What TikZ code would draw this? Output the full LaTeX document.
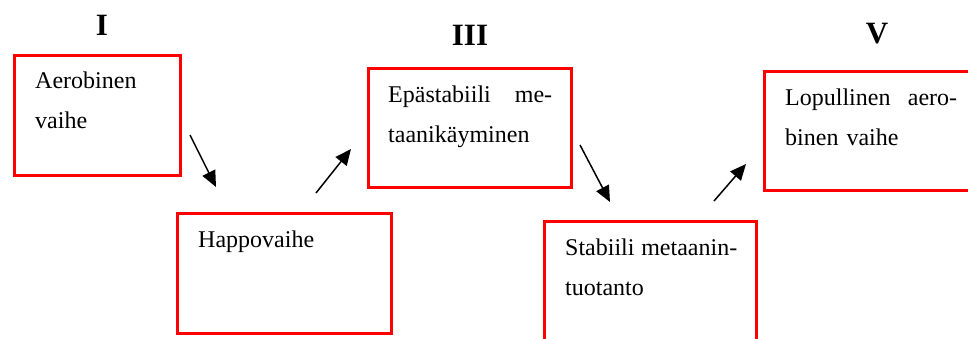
\documentclass[tikz,border=0pt]{standalone}
\usepackage{fontspec}
\setmainfont{Liberation Serif}
\usetikzlibrary{arrows.meta}
\begin{document}
\begin{tikzpicture}[x=1pt,y=-1pt,
  box/.style={draw=red,line width=3pt,anchor=north west,inner sep=0pt},
  txt/.style={anchor=base west,inner sep=0pt,align=left,
    font=\fontsize{24}{40}\selectfont},
  phase/.style={anchor=base,inner sep=0pt,font=\fontsize{31}{31}\selectfont\bfseries},
  arr/.style={line width=1.5pt,-{Triangle[length=16pt,width=14pt]}}]
  \useasboundingbox (0,0) rectangle (968,338);
  \clip (0,0) rectangle (968,338);
  % phase numbers
  \node[phase] (p1) at (102,35) {I};
  \node[phase] (p3) at (470,45) {III};
  \node[phase] (p5) at (877,43) {V};
  % frames
  \node[box,minimum width=166,minimum height=120] (aero) at (13,54) {};
  \node[box,minimum width=214,minimum height=120] (happo) at (176,212) {};
  \node[box,minimum width=203,minimum height=119] (epast) at (367,67) {};
  \node[box,minimum width=212,minimum height=120] (stab) at (543,220) {};
  \node[box,minimum width=214,minimum height=119] (lopu) at (763,70) {};
  % texts
  \node[txt,text width=140] (aerot) at ([shift={(22,34)}]aero.north west) {Aerobinen\\vaihe};
  \node[txt,text width=170] (happot) at ([shift={(22,35)}]happo.north west) {Happovaihe};
  \node[txt,text width=164] (epastt) at ([shift={(21,35)}]epast.north west)
    {Epästabiili\hfill me-\\taanikäyminen};
  \node[txt,text width=172] (stabt) at ([shift={(22,35)}]stab.north west)
    {Stabiili\hfill metaanin-\\tuotanto};
  \node[txt,text width=172] (lopt) at ([shift={(22,35)}]lopu.north west)
    {Lopullinen\hfill aero-\\binen vaihe};
  % arrow ends
  \coordinate (a1s) at (190,135); \coordinate (a1e) at (216,187);
  \coordinate (a2s) at (316,193); \coordinate (a2e) at (351,149);
  \coordinate (a3s) at (580,145); \coordinate (a3e) at (610,202);
  \coordinate (a4s) at (714,201); \coordinate (a4e) at (746,164);
  \foreach \s/\e in {a1s/a1e,a2s/a2e,a3s/a3e,a4s/a4e}
    \draw[arr] (\s) -- (\e);
\end{tikzpicture}
\end{document}
